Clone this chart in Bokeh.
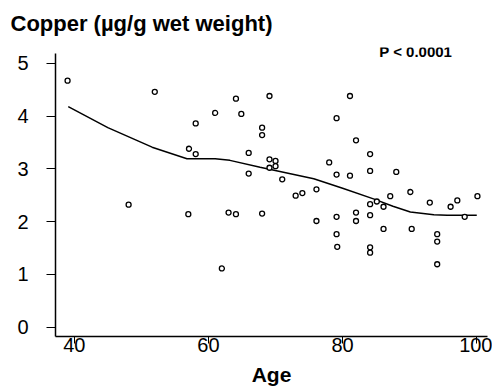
from bokeh.plotting import figure
from bokeh.models import Label, FixedTicker
from bokeh.embed import file_html
from bokeh.resources import INLINE

# data
age = [39.0, 52.0, 58.1, 57.1, 58.1, 61.0, 64.1, 64.9, 66.0, 66.0,
       69.1, 68.0, 68.0, 69.1, 70.0, 70.0, 69.1, 71.0, 73.0, 74.0,
       76.1, 78.0, 79.1, 81.1, 82.0, 79.1, 81.1, 84.1, 84.1, 88.0,
       87.1, 90.1, 100.1, 97.1, 68.0, 76.1, 79.1, 79.1, 79.2, 82.0,
       82.0, 84.1, 84.1, 84.1, 84.1, 85.1, 86.1, 86.1, 90.3, 93.0,
       94.1, 94.1, 94.1, 96.1, 98.2, 48.1, 57.0, 63.0, 64.1, 62.0]
copper = [4.67, 4.46, 3.86, 3.38, 3.28, 4.06, 4.33, 4.04, 3.30, 2.91,
          4.38, 3.78, 3.64, 3.18, 3.15, 3.05, 3.02, 2.80, 2.49, 2.54,
          2.61, 3.12, 3.96, 4.38, 3.54, 2.89, 2.87, 3.28, 2.96, 2.94,
          2.48, 2.56, 2.48, 2.40, 2.15, 2.01, 2.09, 1.76, 1.52, 2.17,
          2.01, 2.33, 2.12, 1.51, 1.41, 2.38, 2.28, 1.86, 1.86, 2.36,
          1.76, 1.62, 1.19, 2.28, 2.09, 2.32, 2.14, 2.17, 2.14, 1.11]

smooth_age = [39.1, 45.0, 51.6, 56.8, 61.0, 63.2, 67.7, 75.7, 80.0, 84.6,
              87.5, 90.1, 93.6, 95.6, 100.0]
smooth_cu = [4.18, 3.78, 3.41, 3.19, 3.19, 3.16, 3.03, 2.81, 2.63, 2.43,
             2.29, 2.18, 2.13, 2.12, 2.12]

x_ticks = [40, 60, 80, 100]
y_ticks = [0, 1, 2, 3, 4, 5]

FONT = "Liberation Sans"

p = figure(width=492, height=390, output_backend="svg", toolbar_location=None,
           x_range=(37.2, 101.6), y_range=(-0.18, 5.30),
           min_border_left=55, min_border_right=5, min_border_top=47,
           min_border_bottom=54)

p.title.text = "Copper (\u00b5g/g wet weight)"
p.title.text_font = FONT
p.title.text_font_size = "22px"
p.title.text_font_style = "bold"
p.title.text_color = "black"
p.title.vertical_align = "top"
p.title.offset = -45
p.title.standoff = 20

p.outline_line_color = None
p.grid.visible = False
p.background_fill_color = "white"
p.border_fill_color = "white"

p.line(smooth_age, smooth_cu, line_color="black", line_width=1.5)
p.scatter(age, copper, marker="circle", size=5, fill_color="white",
          line_color="black", line_width=1.3)

xa = p.xaxis[0]
xa.ticker = FixedTicker(ticks=x_ticks)
xa.axis_label = "Age"
xa.axis_label_text_font = FONT
xa.axis_label_text_font_size = "21px"
xa.axis_label_text_font_style = "bold"
xa.axis_label_text_color = "black"
xa.axis_label_standoff = 8
xa.major_label_text_font = FONT
xa.major_label_text_font_size = "20px"
xa.major_label_text_color = "black"
xa.major_label_standoff = -6
xa.major_tick_out = 7
xa.major_tick_in = 0
xa.minor_tick_line_color = None
xa.axis_line_width = 1.5
xa.axis_line_color = "black"
xa.major_tick_line_color = "black"

ya = p.yaxis[0]
ya.ticker = FixedTicker(ticks=y_ticks)
ya.bounds = (-0.18, 5.18)
ya.major_label_text_font = FONT
ya.major_label_text_font_size = "20px"
ya.major_label_text_color = "black"
ya.major_label_standoff = 18
ya.major_tick_out = 9
ya.major_tick_in = 0
ya.minor_tick_line_color = None
ya.axis_line_width = 1.5
ya.axis_line_color = "black"
ya.major_tick_line_color = "black"

p.add_layout(Label(x=90.9, y=5.23, text="P < 0.0001", text_font=FONT,
                   text_font_size="15px", text_font_style="bold",
                   text_color="black",
                   text_align="center", text_baseline="middle"))

open("out.html", "w").write(file_html(p, INLINE))
